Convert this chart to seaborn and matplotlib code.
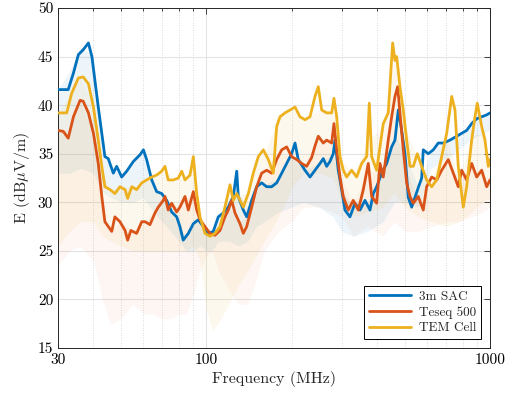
import numpy as np
import pandas as pd
import matplotlib
matplotlib.use("Agg")
import matplotlib.pyplot as plt
import seaborn as sns
from matplotlib.ticker import FixedLocator, NullFormatter

# ---------------- data ----------------
sac_f = [30, 31.3, 32.6, 34.0, 35.4, 36.8, 38.4, 39.5, 41.6, 43.9, 45.1, 47.0, 48.3, 50.3, 52.4,
         55.3, 58.4, 60.0, 61.6, 64.2, 66.8, 69.6, 72.5, 75.5, 78.6, 80.7, 82.9, 86.4, 90.0, 93.7,
         97.6, 101.6, 105.8, 110.2, 114.7, 119.5, 121.2, 124.5, 128.0, 129.6, 135.0, 138.8, 144.5,
         150.5, 156.7, 163.2, 170.0, 177.0, 184.4, 192.0, 199.9, 205.4, 210.9, 222.7, 232.0, 241.6,
         251.6, 258.4, 265.6, 272.8, 280.2, 284.1, 291.8, 300, 308.1, 320.9, 334.2, 348.1, 362.5,
         377.5, 387.8, 398.5, 415.1, 432.2, 450.1, 462.4, 474.9, 488.2, 501.5, 515.1, 529.5, 558.6,
         574.3, 581.8, 605.9, 631.0, 657.1, 684.5, 722.8, 763.2, 794.6, 827.4, 861.8, 897.5, 934.7,
         973.4, 1000]
sac_e = [41.6, 41.6, 41.6, 43.3, 45.2, 45.7, 46.4, 45.0, 39.8, 34.7, 34.5, 33.0, 33.7, 32.6, 33.2,
         34.2, 34.9, 35.4, 34.4, 32.3, 31.1, 30.9, 30.2, 29.0, 28.5, 27.5, 26.1, 26.8, 27.8, 28.2,
         27.5, 26.8, 27.0, 28.5, 28.9, 29.5, 29.9, 30.6, 33.2, 30.6, 29.2, 28.5, 30.2,
         31.6, 32.0, 31.6, 31.6, 32.0, 33.0, 34.0, 35.0, 36.1, 34.4, 33.3, 32.6, 33.3,
         34.0, 34.5, 33.7, 34.2, 35.0, 36.4, 33.3, 31.3, 29.2, 28.5, 29.9, 29.2, 30.2,
         29.2, 30.9, 31.6, 33.0, 34.0, 35.7, 36.4, 39.5, 37.4, 35.0, 30.5, 29.5, 31.5,
         32.5, 35.4, 35.0, 35.4, 36.1, 36.1, 36.4, 36.8, 37.1, 37.4, 38.1, 38.6, 38.8,
         39.0, 39.2]

teseq_f = [30, 31.3, 32.6, 34.0, 35.9, 36.8, 38.4, 40.0, 41.6, 42.8, 43.9, 46.4, 47.6, 49.6, 51.7,
           52.8, 54.2, 56.8, 59.2, 60.8, 63.3, 65.9, 67.7, 70.5, 71.5, 73.4, 75.5, 78.6, 80.7, 84.1,
           86.4, 90.0, 92.5, 95.0, 98.9, 103.0, 107.3, 111.7, 116.3, 119.5, 122.9, 126.2, 131.4,
           135.0, 138.8, 144.5, 150.5, 156.7, 163.2, 170.0, 177.0, 184.4, 192.0, 199.9, 208.2,
           216.8, 225.8, 235.1, 241.6, 248.1, 258.4, 265.6, 276.6, 281.8, 288.1, 295.9, 303.9,
           316.5, 329.6, 343.3, 357.5, 372.3, 382.7, 398.5, 409.4, 420.5, 437.8, 450.1, 462.4,
           472.6, 481.5, 494.6, 508.5, 522.3, 536.5, 558.6, 581.8, 598.0, 622.9, 648.7, 675.6,
           712.8, 742.4, 772.9, 794.6, 827.4, 861.8, 897.5, 934.7, 973.4, 1000]
teseq_e = [37.4, 37.3, 36.6, 38.8, 40.5, 40.4, 39.2, 37.1, 34.0, 30.6, 28.0, 27.0, 28.5, 28.0, 27.1,
           26.1, 27.1, 26.8, 28.0, 28.0, 27.7, 28.9, 29.5, 30.2, 30.6, 29.2, 29.9, 29.0, 29.5, 30.6,
           29.2, 31.1, 29.2, 28.2, 27.5, 26.8, 26.6, 27.1, 28.5, 29.2, 30.2, 28.9, 27.8,
           26.8, 27.5, 29.5, 31.6, 33.0, 33.3, 33.0, 34.4, 35.4, 35.7, 34.7, 34.4,
           34.0, 33.7, 34.6, 35.8, 36.8, 36.1, 36.4, 36.1, 38.1, 35.4, 32.6, 30.6,
           29.2, 30.2, 29.2, 31.3, 34.0, 30.6, 29.9, 34.0, 32.6, 36.4, 38.8, 40.9,
           41.9, 39.2, 35.4, 32.0, 30.6, 29.9, 30.6, 29.2, 31.6, 32.6, 32.3, 33.3,
           34.4, 33.0, 31.6, 33.3, 32.3, 34.0, 32.6, 33.3, 31.6, 32.3]

tem_f = [30, 31.3, 32.2, 33.5, 35.4, 36.8, 38.4, 40.0, 41.6, 42.8, 43.9, 45.8, 47.6, 49.6, 51.7,
         52.8, 54.6, 56.8, 59.2, 61.6, 64.2, 66.8, 69.6, 71.5, 73.4, 76.5, 79.7, 81.9, 84.1, 87.6,
         90.0, 92.5, 95.0, 98.9, 103.0, 107.3, 111.7, 116.3, 121.2, 124.5, 128.0, 135.0, 140.6,
         146.4, 152.5, 158.8, 165.4, 172.2, 177.0, 181.8, 189.4, 197.2, 205.4, 213.9, 222.7, 232.0,
         241.6, 248.1, 255.1, 265.6, 276.6, 281.8, 288.1, 295.9, 303.9, 312.4, 325.3, 338.9, 352.9,
         367.5, 375.4, 382.7, 398.5, 409.4, 420.5, 437.8, 453.8, 462.4, 468.8, 481.5, 494.6, 508.5,
         522.3, 536.5, 554.2, 574.3, 598.0, 622.9, 648.7, 675.6, 703.5, 732.9, 752.7, 772.9, 805.0,
         827.4, 861.8, 885.2, 901.8, 934.7, 960.0, 986.2, 1000]
tem_e = [39.2, 39.2, 39.2, 41.2, 42.8, 42.9, 42.2, 39.8, 36.4, 33.7, 31.6, 31.3, 30.9, 31.6, 31.3,
         30.4, 31.6, 31.3, 32.0, 32.3, 32.6, 32.8, 33.2, 33.7, 32.3, 32.3, 32.5, 33.2, 32.3, 32.8,
         34.7, 30.9, 28.5, 26.8, 26.5, 26.8, 27.5, 29.5, 31.8, 30.2, 30.9, 29.5, 30.9,
         33.0, 34.7, 35.4, 34.4, 33.0, 37.8, 38.8, 39.2, 39.5, 39.8, 38.8, 38.5, 38.8,
         40.9, 41.9, 39.5, 39.2, 39.2, 40.7, 38.8, 34.7, 33.3, 32.6, 33.3, 32.6, 34.0,
         34.7, 40.2, 34.7, 33.3, 35.7, 38.1, 39.2, 46.4, 44.6, 45.0, 41.9, 39.5, 36.4,
         33.7, 33.7, 35.0, 33.7, 32.3, 31.6, 32.3, 34.7, 37.1, 40.9, 39.5, 33.7, 29.5,
         31.6, 36.4, 38.8, 40.2, 37.8, 36.4, 33.7, 34.4]

# spread bands (min / max)
band_f = [30, 33, 36, 40, 43, 46, 50, 55, 60, 65, 70, 75, 80, 85, 90, 95, 100, 105, 110, 120, 130,
          140, 150, 160, 180, 200, 220, 250, 280, 300, 330, 370, 420, 460, 500, 560, 620, 700, 780,
          860, 940, 1000]
sac_lo = [33, 33, 33.5, 33, 31, 30.5, 30, 30, 30.5, 29, 28, 27, 26, 25, 25, 25.5, 25, 25, 26, 26, 25.5,
          26, 27.5, 28, 29, 29.5, 30, 29.5, 28.5, 27, 26.5, 27, 28, 30, 30, 29.5, 33.5, 34.5, 35.5,
          36.5, 37, 37.5]
sac_hi = [41.6, 43.5, 46, 45, 35, 33.8, 32.6, 34.2, 35.4, 31.5, 30.9, 29, 27.5, 26.5, 27.8, 28.2, 26.8,
          27, 28.5, 29.7, 31, 29.5, 31.6, 31.8, 32.5, 35, 33.3, 34, 35, 31.3, 29.5, 30, 33.5, 37, 35,
          31.5, 35.4, 36.4, 37, 38.2, 38.8, 39.2]
teseq_lo = [23.5, 25, 25.5, 24, 20, 17.5, 18, 19.5, 18.5, 18.5, 18, 18, 18.5, 18.5, 20.5, 23, 24.5,
            25, 23, 21, 19.5, 19.5, 22, 25, 27, 28, 29.5, 29.5, 29, 28.5, 26.5, 27.5, 26.5, 28, 27,
            27, 27.5, 28, 28, 28.5, 29, 29.5]
teseq_hi = [37.3, 37.5, 40.3, 37.1, 29, 27, 28, 27, 28, 28.9, 30.2, 29.9, 29.5, 30.4, 31, 28.2, 27,
            26.6, 27.1, 29.5, 28, 28.5, 31.6, 33.3, 35, 34.7, 34, 36.5, 36.5, 32.5, 30, 33, 33.5, 40,
            34, 30, 32, 34, 32.5, 33.5, 33, 32.3]
tem_lo = [25.5, 27, 28, 28, 26.5, 26, 25.5, 25, 25, 25, 25, 25, 25, 25, 25.5, 24, 19, 16.8, 17.5, 19.5,
          21.5, 23, 24.5, 26, 28.5, 31.5, 33, 33, 32.5, 30, 28.5, 29, 29.5, 31, 29.5, 28.5, 28, 27.5,
          28, 29, 30, 30.5]
tem_hi = [39.2, 41, 42.8, 39.8, 33, 31.3, 31.6, 31.5, 32.2, 32.8, 33.3, 32.3, 32.5, 32.4, 34, 28.5,
          26.6, 26.6, 27.3, 31, 30.8, 30.9, 34.5, 35, 38.8, 39.6, 38.6, 39.5, 39.5, 34.3, 33, 36, 38,
          45, 38, 34, 32, 37, 32, 37, 37, 34.4]

labels = ["3m SAC", "Teseq 500", "TEM Cell"]
colors = ["#0072BD", "#D95319", "#EDB120"]

# ---------------- style ----------------
sns.set_style("white")
plt.rcParams["font.family"] = ["cmr10", "DejaVu Serif"]
plt.rcParams["mathtext.fontset"] = "cm"
plt.rcParams["axes.formatter.use_mathtext"] = True

fig = plt.figure(figsize=(5.15, 3.98), dpi=100)
ax = fig.add_axes([58 / 515, 1 - 348 / 398, 432 / 515, 340 / 398])

for lo, hi, c, a in [(sac_lo, sac_hi, colors[0], 0.07), (teseq_lo, teseq_hi, colors[1], 0.05),
                     (tem_lo, tem_hi, colors[2], 0.08)]:
    ax.fill_between(band_f, lo, hi, color=c, alpha=a, lw=0, zorder=1)

df = pd.concat([
    pd.DataFrame({"freq": sac_f, "E": sac_e, "series": labels[0]}),
    pd.DataFrame({"freq": teseq_f, "E": teseq_e, "series": labels[1]}),
    pd.DataFrame({"freq": tem_f, "E": tem_e, "series": labels[2]}),
], ignore_index=True)

sns.lineplot(data=df, x="freq", y="E", hue="series", hue_order=labels,
             palette=dict(zip(labels, colors)), linewidth=2.0, estimator=None,
             ax=ax, zorder=3)

ax.set_xscale("log")
ax.set_xlim(30, 1000)
ax.set_ylim(15, 50)
ax.xaxis.set_major_locator(FixedLocator([30, 100, 1000]))
ax.xaxis.set_minor_locator(FixedLocator([40, 50, 60, 70, 80, 90, 200, 300, 400, 500, 600, 700, 800, 900]))
ax.xaxis.set_minor_formatter(NullFormatter())
ax.set_xticklabels(["30", "100", "1000"])
ax.set_yticks(np.arange(15, 51, 5))
ax.set_yticklabels([str(v) for v in range(15, 51, 5)])

ax.grid(True, which="major", color="#e3e3e3", lw=0.8, ls="-", zorder=0)
ax.grid(True, which="minor", axis="x", color="#cfcfcf", lw=0.6, ls=(0, (1, 2)), zorder=0)
ax.set_axisbelow(True)

ax.tick_params(which="both", direction="in", top=True, right=True, colors="#262626",
               labelcolor="black", labelsize=11, width=0.6)
ax.tick_params(which="major", length=4)
ax.tick_params(which="minor", length=2.5)
for s in ax.spines.values():
    s.set_color("#262626")
    s.set_linewidth(0.7)

ax.set_xlabel("Frequency (MHz)", fontsize=11.5, labelpad=3)
ax.set_ylabel(r"E (dB$\mu$V/m)", fontsize=11.5, labelpad=4)

leg = ax.legend(loc="lower right", frameon=True, fancybox=False, edgecolor="black",
                framealpha=1, fontsize=9.5, handlelength=3.2, borderaxespad=0.7,
                labelspacing=0.25, borderpad=0.35, handletextpad=0.6)
leg.get_frame().set_linewidth(0.7)
for line in leg.get_lines():
    line.set_linewidth(2.0)

fig.savefig("out.png", dpi=100)
